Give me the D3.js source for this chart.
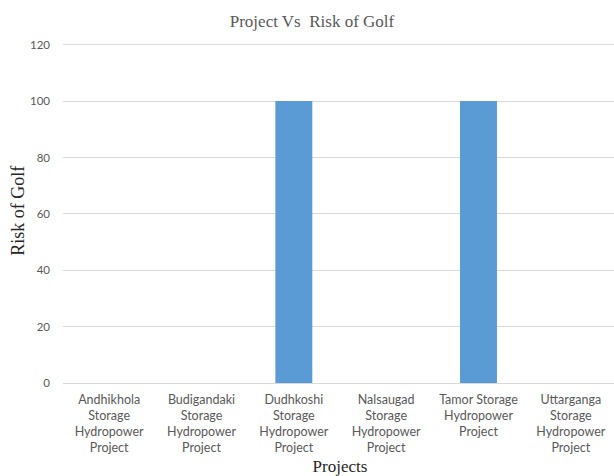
<!DOCTYPE html>
<html>
<head>
<meta charset="utf-8">
<script src="https://cdn.jsdelivr.net/npm/d3@7"></script>
<style>
  html, body { margin: 0; padding: 0; background: #fff; }
  svg { display: block; }
</style>
</head>
<body>
<svg id="chart" width="614" height="476"></svg>
<script>
// Risk of Golf per storage hydropower project
const projects = [
  ["Andhikhola", "Storage", "Hydropower", "Project"],
  ["Budigandaki", "Storage", "Hydropower", "Project"],
  ["Dudhkoshi", "Storage", "Hydropower", "Project"],
  ["Nalsaugad", "Storage", "Hydropower", "Project"],
  ["Tamor Storage", "Hydropower", "Project"],
  ["Uttarganga", "Storage", "Hydropower", "Project"]
];
const riskOfGolf = [0, 0, 100, 0, 100, 0];
const yTicks = [0, 20, 40, 60, 80, 100, 120];

const chartTitle = "Project Vs  Risk of Golf";
const xTitle = "Projects";
const yTitle = "Risk of Golf";

const svg = d3.select("#chart");
const plot = { left: 63, right: 617, top: 44.6, bottom: 383 };

const keys = projects.map((p, i) => i);
const x = d3.scaleBand().domain(keys).range([plot.left, plot.right]).paddingInner(0.6).paddingOuter(0.3);
const y = d3.scaleLinear().domain([0, 120]).range([plot.bottom, plot.top]);

const labelFont = "Lato, 'Open Sans', sans-serif";
const serif = "'Liberation Serif', 'Times New Roman', serif";

// gridlines
svg.append("g")
  .selectAll("line")
  .data(yTicks)
  .join("line")
  .attr("x1", plot.left).attr("x2", plot.right)
  .attr("y1", d => y(d)).attr("y2", d => y(d))
  .attr("stroke", "#d9d9d9").attr("stroke-width", 1)
  .attr("shape-rendering", "crispEdges");

// y tick labels
const yAxis = d3.axisLeft(y).tickValues(yTicks).tickSize(0).tickPadding(13);
const gy = svg.append("g").attr("transform", `translate(${plot.left},0)`).call(yAxis);
gy.select(".domain").remove();
gy.selectAll("text")
  .attr("font-family", labelFont).attr("font-size", 11.5).attr("fill", "#595959");

// bars
svg.append("g")
  .selectAll("rect")
  .data(riskOfGolf.map((v, i) => ({ i, v })))
  .join("rect")
  .attr("x", d => x(d.i))
  .attr("width", x.bandwidth())
  .attr("y", d => y(d.v))
  .attr("height", d => y(0) - y(d.v))
  .attr("fill", "#5b9bd5");

// x category labels (wrapped lines)
const gx = svg.append("g");
projects.forEach((lines, i) => {
  const cx = x(i) + x.bandwidth() / 2;
  const t = gx.append("text")
    .attr("text-anchor", "middle")
    .attr("font-family", labelFont).attr("font-size", 12.5).attr("fill", "#595959");
  lines.forEach((ln, k) => {
    t.append("tspan").attr("x", cx).attr("y", 404 + k * 16).text(ln);
  });
});

// titles
svg.append("text")
  .attr("x", 312).attr("y", 27)
  .attr("text-anchor", "middle")
  .attr("font-family", serif).attr("font-size", 17).attr("fill", "#595959")
  .attr("xml:space", "preserve")
  .text(chartTitle);

svg.append("text")
  .attr("x", 340).attr("y", 472)
  .attr("text-anchor", "middle")
  .attr("font-family", serif).attr("font-size", 17).attr("fill", "#262626")
  .text(xTitle);

svg.append("text")
  .attr("transform", `translate(24,${(plot.top + plot.bottom) / 2 - 3}) rotate(-90)`)
  .attr("text-anchor", "middle")
  .attr("font-family", serif).attr("font-size", 18).attr("fill", "#262626")
  .text(yTitle);
</script>
</body>
</html>
